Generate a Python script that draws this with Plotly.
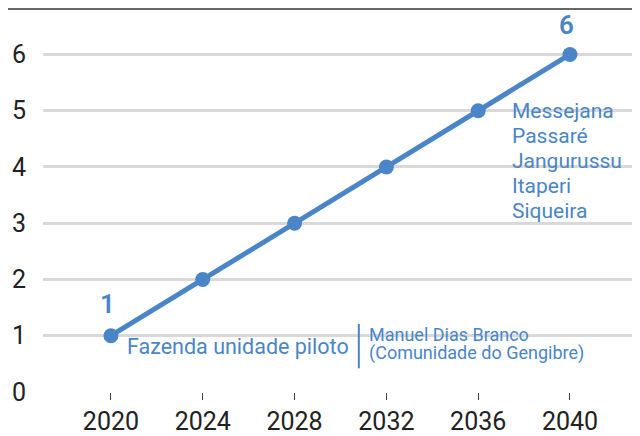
import plotly.graph_objects as go

years = [2020, 2024, 2028, 2032, 2036, 2040]
values = [1, 2, 3, 4, 5, 6]
y_ticks = [0, 1, 2, 3, 4, 5, 6]
right_list = ["Messejana", "Passaré", "Jangurussu", "Itaperi", "Siqueira"]
pilot_label = "Fazenda unidade piloto"
mdb_label = ["Manuel Dias Branco", "(Comunidade do Gengibre)"]

BLUE = "#4a85c7"
FONT = "Roboto"

fig = go.Figure()
fig.add_trace(go.Scatter(
    x=years, y=values, mode="lines+markers",
    line=dict(color=BLUE, width=5),
    marker=dict(color=BLUE, size=15),
    hoverinfo="skip", showlegend=False, cliponaxis=False,
))

fig.update_layout(
    width=632, height=428,
    margin=dict(l=35, r=0, t=2, b=39),
    paper_bgcolor="white", plot_bgcolor="white",
    font=dict(family=FONT, color="#222222"),
    xaxis=dict(
        range=[2017.04, 2043.05], tickvals=years, ticktext=[str(y) for y in years],
        showgrid=False, zeroline=False, showline=False,
        ticks="outside", ticklen=7, tickwidth=1, tickcolor="#444444",
        tickfont=dict(size=25, color="#222222"),
    ),
    yaxis=dict(
        range=[0, 6.79], tickvals=y_ticks,
        showgrid=True, gridcolor="#d9d9d9", gridwidth=2.5,
        zeroline=False, showline=False, ticks="",
        ticklabelstandoff=16,
        tickfont=dict(size=25, color="#222222"),
    ),
)

# top border line
fig.add_shape(type="line", xref="paper", yref="paper",
              x0=-35/597, x1=1, y0=1+1/387, y1=1+1/387,
              line=dict(color="#666666", width=2))

# first / last value labels
fig.add_annotation(x=years[0] - 0.13, y=values[0] + 0.56, text=str(values[0]), showarrow=False,
                   font=dict(size=26, color=BLUE, weight=600))
fig.add_annotation(x=years[-1] - 0.15, y=values[-1] + 0.52, text=str(values[-1]), showarrow=False,
                   font=dict(size=26, color=BLUE, weight=600))

# pilot label
fig.add_annotation(x=2020.6, y=0.81, text=pilot_label, showarrow=False,
                   xanchor="left", font=dict(size=21.5, color=BLUE))

# separator
fig.add_shape(type="line", x0=2030.8, x1=2030.8, y0=0.42, y1=1.21,
              line=dict(color=BLUE, width=2))

for i, line in enumerate(mdb_label):
    fig.add_annotation(x=2031.15, y=1.02 - i * 0.335, text=line, showarrow=False,
                       xanchor="left", font=dict(size=18, color=BLUE))

for i, name in enumerate(right_list):
    fig.add_annotation(x=2037.4, y=4.99 - i * 0.443, text=name, showarrow=False,
                       xanchor="left", font=dict(size=21, color=BLUE))

fig.write_html("out.html")
